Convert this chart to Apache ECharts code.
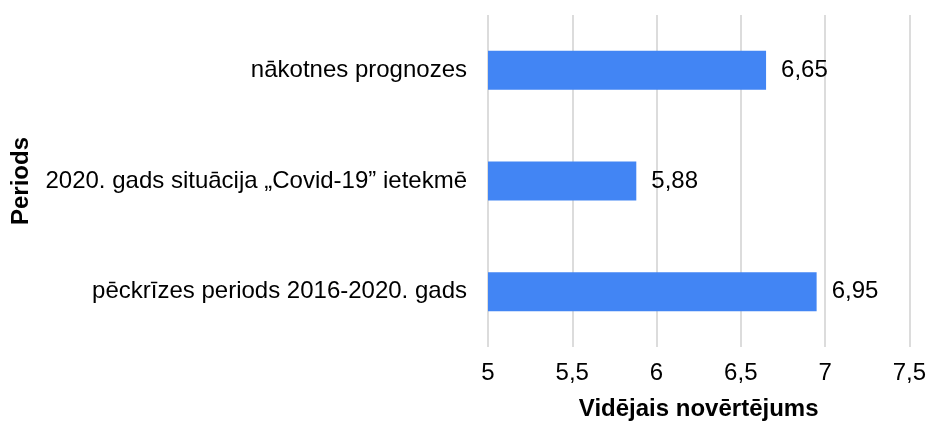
<!DOCTYPE html>
<html>
<head>
<meta charset="utf-8">
<script src="https://cdn.jsdelivr.net/npm/echarts@6/dist/echarts.min.js"></script>
<style>
  html, body { margin: 0; padding: 0; background: #fff; }
  #chart { width: 929px; height: 426px; }
</style>
</head>
<body>
<div id="chart"></div>
<script>
// categories listed bottom to top (category axis on y grows upward)
const categories = [
  'pēckrīzes periods 2016-2020. gads',
  '2020. gads situācija „Covid-19” ietekmē',
  'nākotnes prognozes',
]
const values = [6.95, 5.88, 6.65]
const xTicks = [5, 5.5, 6, 6.5, 7, 7.5]

const font = "'Liberation Sans', Arial, sans-serif"
const textColor = '#000'
const barColor = '#4285f4'

function comma(v) {
  return String(v).replace('.', ',')
}

const chart = echarts.init(document.getElementById('chart'))

const option = {
  animation: false,
  grid: {
    left: 488,
    right: 19,
    top: 15,
    bottom: 79,
  },
  xAxis: {
    type: 'value',
    min: xTicks[0],
    max: xTicks[xTicks.length - 1],
    interval: 0.5,
    name: 'Vidējais novērtējums',
    nameLocation: 'middle',
    nameGap: 50,
    nameTextStyle: {
      color: textColor,
      fontFamily: font,
      fontSize: 24,
      fontWeight: 'bold',
    },
    axisLine: { show: false },
    axisTick: { show: false },
    axisLabel: {
      color: textColor,
      fontFamily: font,
      fontSize: 24,
      margin: 14,
      formatter: comma,
    },
    splitLine: {
      show: true,
      lineStyle: { color: '#dcdcdc', width: 2 },
    },
  },
  yAxis: {
    type: 'category',
    data: categories,
    name: 'Periods',
    nameLocation: 'middle',
    nameGap: 455,
    nameRotate: 90,
    nameTextStyle: {
      color: textColor,
      fontFamily: font,
      fontSize: 24,
      fontWeight: 'bold',
    },
    axisLine: { show: false },
    axisTick: { show: false },
    axisLabel: {
      color: textColor,
      fontFamily: font,
      fontSize: 24,
      margin: 21,
    },
    splitLine: { show: false },
  },
  series: [
    {
      type: 'bar',
      data: values,
      barWidth: 39,
      itemStyle: { color: barColor },
      label: {
        show: true,
        position: 'right',
        distance: 15,
        color: textColor,
        fontFamily: font,
        fontSize: 24,
        formatter: p => comma(p.value),
      },
    },
  ],
}

chart.setOption(option)
</script>
</body>
</html>
